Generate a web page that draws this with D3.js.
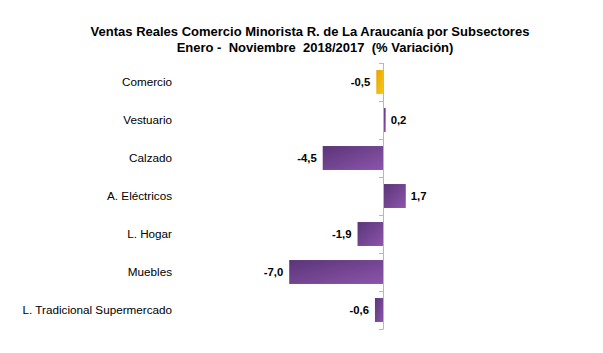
<!DOCTYPE html>
<html><head><meta charset="utf-8">
<script src="https://cdn.jsdelivr.net/npm/d3@7"></script>
<style>body{margin:0;background:#fff}svg{display:block;font-family:"Liberation Sans",Arial,sans-serif}text{white-space:pre}</style>
</head><body>
<svg id="c" width="603" height="353"></svg>
<script>
const categories = ["Comercio","Vestuario","Calzado","A. Eléctricos","L. Hogar","Muebles","L. Tradicional Supermercado"];
const values = [-0.5, 0.2, -4.5, 1.7, -1.9, -7.0, -0.6];
const valueLabels = ["-0,5","0,2","-4,5","1,7","-1,9","-7,0","-0,6"];
const titleLines = ["Ventas Reales Comercio Minorista R. de La Araucanía por Subsectores","Enero -  Noviembre  2018/2017  (% Variación)"];

const svg = d3.select("#c");
const defs = svg.append("defs");
function grad(id, c1, c2){
  const g = defs.append("linearGradient").attr("id", id).attr("x1","0").attr("y1","0").attr("x2","1").attr("y2","1");
  g.append("stop").attr("offset","0").attr("stop-color", c1);
  g.append("stop").attr("offset","1").attr("stop-color", c2);
}
grad("gPurple", "#5a3578", "#8c55aa");
grad("gGold", "#e6a400", "#f7c81c");

const x = d3.scaleLinear().domain([-8, 2]).range([275.8, 409.8]);
const y = d3.scaleBand().domain(categories).range([63, 329]).paddingInner(0.37).paddingOuter(0.185);

svg.append("g").selectAll("text").data(titleLines).join("text")
  .attr("x", (d,i)=> i===0 ? 310 : 315).attr("y", (d,i)=>36 + i*16)
  .attr("text-anchor","middle").attr("font-weight","bold").attr("font-size", 13)
  .attr("fill","#000").text(d=>d);

// bars
svg.append("g").selectAll("rect").data(values).join("rect")
  .attr("x", d => x(Math.min(0,d)))
  .attr("y", (d,i) => y(categories[i]))
  .attr("width", d => Math.abs(x(d)-x(0)))
  .attr("height", y.bandwidth())
  .attr("fill", (d,i) => i===0 ? "url(#gGold)" : "url(#gPurple)");

// axis line and ticks at band boundaries
const half = (y.step() - y.bandwidth())/2;
const bounds = categories.map(c => y(c) - half).concat([y(categories[categories.length-1]) + y.bandwidth() + half]);
const ax = svg.append("g").attr("stroke","#b8b8b8").attr("stroke-width",1);
ax.append("line").attr("x1", x(0)+0.5).attr("x2", x(0)+0.5).attr("y1", bounds[0]).attr("y2", bounds[bounds.length-1]);
ax.selectAll("line.t").data(bounds).join("line").attr("class","t")
  .attr("x1", x(0)-4).attr("x2", x(0)+0.5).attr("y1", d=>Math.round(d)+0.5).attr("y2", d=>Math.round(d)+0.5);

// category labels
svg.append("g").selectAll("text").data(categories).join("text")
  .attr("x", 172).attr("y", c => y(c) + y.bandwidth()/2).attr("dy","0.35em")
  .attr("text-anchor","end").attr("font-size", 11.7).attr("fill","#000").text(c=>c);

// value labels
svg.append("g").selectAll("text").data(values).join("text")
  .attr("x", d => d < 0 ? x(d) - 6 : x(d) + 5)
  .attr("y", (d,i) => y(categories[i]) + y.bandwidth()/2).attr("dy","0.35em")
  .attr("text-anchor", d => d < 0 ? "end" : "start")
  .attr("font-weight","bold").attr("font-size", 11.3).attr("fill","#000")
  .text((d,i)=>valueLabels[i]);
</script>
</body></html>
